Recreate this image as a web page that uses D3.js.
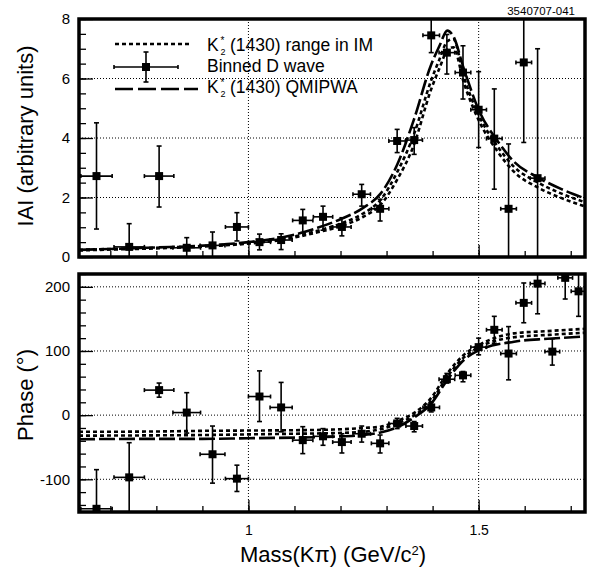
<!DOCTYPE html>
<meta charset="utf-8">
<script src="https://d3js.org/d3.v7.min.js"></script>
<style>
  body { margin: 0; background: #fff; }
  text { font-family: "Liberation Sans", Arial, Helvetica, sans-serif; fill: #000; }
</style>
<div id="chart"></div>
<script>

// bin centres, Mass(K pi) in GeV/c^2, and horizontal error bars
let mass    = [0.670, 0.741, 0.806, 0.866, 0.922, 0.975, 1.024, 1.071, 1.118, 1.162, 1.203, 1.246, 1.286,
               1.323, 1.360, 1.397, 1.431, 1.466, 1.500, 1.534, 1.565, 1.598, 1.628, 1.660, 1.688, 1.717]
let massErr = [0.034, 0.033, 0.032, 0.030, 0.027, 0.025, 0.024, 0.024, 0.022, 0.021, 0.020, 0.019, 0.019,
               0.018, 0.018, 0.018, 0.017, 0.017, 0.017, 0.017, 0.017, 0.017, 0.016, 0.016, 0.016, 0.016]

// |A| of the binned D wave (first 23 bins)
let amp   = [2.72, 0.34, 2.72, 0.31, 0.39, 1.01, 0.50, 0.57, 1.23, 1.35, 1.01, 2.11, 1.62, 3.90, 3.93, 7.45, 6.87, 6.20, 4.95, 3.98, 1.62, 6.54, 2.65]
let ampLo = [0.94, -0.5, 1.68, -0.5, -0.5, 0.54, 0.24, 0.25, 0.82, 0.90, 0.71, 1.71, 1.21, 3.51, 3.45, 6.87, 6.15, 5.31, 3.68, 2.28, -1.0, 3.85, -1.0]
let ampHi = [4.51, 1.12, 3.73, 0.65, 0.84, 1.49, 0.77, 0.78, 1.60, 1.71, 1.32, 2.44, 1.94, 4.29, 4.35, 8.60, 7.48, 7.10, 6.23, 5.65, 3.80, 8.60, 7.00]

// phase of the binned D wave, degrees
let phase   = [-146, -97, 39, 4, -61, -99, 29, 12, -39, -33, -42, -29, -44, -13, -17, 12, 56, 62, 106, 133, 96, 175, 205, 99, 214, 193]
let phaseLo = [-250, -250, 28, -28, -106, -119, -10, -26, -60, -47, -59, -42, -59, -21, -26, 5, 50, 52, 94, 112, 55, 144, 158, 78, 181, 154]
let phaseHi = [-85, -43, 50, 35, -17, -78, 69, 51, -18, -21, -29, -17, -31, -5, -10, 21, 65, 68, 120, 154, 138, 206, 300, 119, 300, 300]

// model curves
let ampCurveMass = [0.632, 0.70, 0.80, 0.90, 1.00, 1.07, 1.15, 1.20, 1.25, 1.287, 1.323, 1.359, 1.396, 1.415, 1.432, 1.445, 1.468, 1.50, 1.541, 1.577, 1.628, 1.68, 1.731]
let ampQmipwa = [0.24, 0.27, 0.32, 0.38, 0.50, 0.65, 0.98, 1.27, 1.66, 2.13, 3.10, 4.60, 6.43, 7.10, 7.61, 7.42, 6.32, 4.95, 3.90, 3.20, 2.68, 2.28, 1.97]
let ampImHigh = [0.24, 0.27, 0.31, 0.37, 0.47, 0.60, 0.88, 1.12, 1.47, 1.92, 2.85, 4.10, 5.90, 6.65, 7.25, 7.33, 6.05, 4.78, 3.72, 3.03, 2.51, 2.13, 1.84]
let ampImLow  = [0.22, 0.25, 0.29, 0.35, 0.45, 0.57, 0.83, 1.03, 1.36, 1.76, 2.60, 3.75, 5.60, 6.35, 6.95, 7.05, 5.85, 4.60, 3.55, 2.86, 2.34, 1.98, 1.70]

let phaseCurveMass = [0.632, 0.80, 0.90, 1.00, 1.10, 1.185, 1.25, 1.287, 1.323, 1.359, 1.396, 1.432, 1.468, 1.50, 1.577, 1.65, 1.731]
let phaseQmipwa = [-37.5, -37, -37, -36, -35, -33.5, -31, -27, -19, -4, 17, 55, 86, 101, 114.5, 119, 122.5]
let phaseImHigh = [-26, -25.5, -24.5, -24, -23.5, -22.5, -20, -18, -9, 3, 26, 65, 94, 109, 127.5, 131, 134.5]
let phaseImLow  = [-32, -31.5, -31, -30, -29, -28, -26, -22, -13, -1, 21, 60, 90, 105.5, 121.5, 125, 128.5]

let ampTicks = [0, 2, 4, 6, 8]
let phaseTicks = [-100, 0, 100, 200]
let massTicks = [1, 1.5]

var W = 598, H = 575

var svg = d3.select("#chart").append("svg")
  .attr("width", W).attr("height", H)
svg.append("rect").attr("width", W).attr("height", H).attr("fill", "#fff")

var x = d3.scaleLinear().domain([0.632, 1.731]).range([79, 585])
var yA = d3.scaleLinear().domain([0, 8]).range([257, 19])
var yP = d3.scaleLinear().domain([-151, 220]).range([512, 274])

function panel(id, y, majorTicks, minorStep, showXLabels) {
  var g = svg.append("g")
  var top = y.range()[1], bot = y.range()[0]
  var left = x.range()[0], right = x.range()[1]

  g.append("clipPath").attr("id", id)
    .append("rect").attr("x", left).attr("y", top)
    .attr("width", right - left).attr("height", bot - top)

  // dotted grid
  g.selectAll(".hg").data(majorTicks).enter().append("line")
    .attr("x1", left).attr("x2", right)
    .attr("y1", d => y(d)).attr("y2", d => y(d))
    .attr("stroke", "#000").attr("stroke-width", 1).attr("stroke-dasharray", "1,2")
  g.selectAll(".vg").data(massTicks).enter().append("line")
    .attr("x1", d => x(d)).attr("x2", d => x(d))
    .attr("y1", top).attr("y2", bot)
    .attr("stroke", "#000").attr("stroke-width", 1).attr("stroke-dasharray", "1,2")

  // y ticks
  var dom = y.domain()
  var minor = d3.range(Math.ceil(dom[0] / minorStep) * minorStep, dom[1] + 1e-9, minorStep)
  g.append("g").attr("transform", "translate(" + left + ",0)")
    .call(d3.axisLeft(y).tickValues(minor).tickSize(-7).tickFormat(""))
    .call(a => a.select(".domain").remove())
  g.append("g").attr("transform", "translate(" + left + ",0)")
    .call(d3.axisLeft(y).tickValues(majorTicks).tickSize(-14).tickPadding(9).tickFormat(d => String(d)))
    .call(a => a.select(".domain").remove())
    .call(a => a.selectAll("text").attr("font-size", 15).attr("font-family", "Liberation Sans, Arial, sans-serif"))

  // x ticks
  g.append("g").attr("transform", "translate(0," + bot + ")")
    .call(d3.axisBottom(x).tickValues(d3.range(0.7, 1.75, 0.1)).tickSize(-6).tickFormat(""))
    .call(a => a.select(".domain").remove())
  var xa = g.append("g").attr("transform", "translate(0," + bot + ")")
    .call(d3.axisBottom(x).tickValues(massTicks).tickSize(-12).tickPadding(13)
      .tickFormat(showXLabels ? (d => String(d)) : ""))
    .call(a => a.select(".domain").remove())
  xa.selectAll("text").attr("font-size", 14).attr("font-family", "Liberation Sans, Arial, sans-serif")
  g.selectAll(".tick line").attr("stroke", "#000").attr("stroke-width", 1.3)

  var plot = g.append("g").attr("clip-path", "url(#" + id + ")")
  return { g: g, plot: plot }
}

var dottedStyle = { dash: "4,3", width: 2.6 }
var dashedStyle = { dash: "16,4", width: 2.6 }

function drawCurve(layer, ms, vs, y, st) {
  var line = d3.line().x(d => x(d[0])).y(d => y(d[1])).curve(d3.curveMonotoneX)
  layer.append("path").datum(d3.zip(ms, vs))
    .attr("d", line).attr("fill", "none")
    .attr("stroke", "#000").attr("stroke-width", st.width).attr("stroke-dasharray", st.dash)
}

function drawPoints(layer, ms, me, vs, lo, hi, y) {
  var pts = d3.range(vs.length).map(i => ({ m: ms[i], e: me[i], v: vs[i], lo: lo[i], hi: hi[i] }))
  var gp = layer.selectAll(".pt").data(pts).enter().append("g")
  gp.append("line").attr("x1", d => x(d.m - d.e)).attr("x2", d => x(d.m + d.e))
    .attr("y1", d => y(d.v)).attr("y2", d => y(d.v))
  gp.append("line").attr("x1", d => x(d.m)).attr("x2", d => x(d.m))
    .attr("y1", d => y(d.lo)).attr("y2", d => y(d.hi))
  // caps
  gp.append("line").attr("x1", d => x(d.m) - 2.5).attr("x2", d => x(d.m) + 2.5)
    .attr("y1", d => y(d.hi)).attr("y2", d => y(d.hi))
  gp.append("line").attr("x1", d => x(d.m) - 2.5).attr("x2", d => x(d.m) + 2.5)
    .attr("y1", d => y(d.lo)).attr("y2", d => y(d.lo))
  gp.append("line").attr("x1", d => x(d.m - d.e)).attr("x2", d => x(d.m - d.e))
    .attr("y1", d => y(d.v) - 2).attr("y2", d => y(d.v) + 2)
  gp.append("line").attr("x1", d => x(d.m + d.e)).attr("x2", d => x(d.m + d.e))
    .attr("y1", d => y(d.v) - 2).attr("y2", d => y(d.v) + 2)
  gp.selectAll("line").attr("stroke", "#000").attr("stroke-width", 1.6)
  gp.append("rect").attr("x", d => x(d.m) - 4).attr("y", d => y(d.v) - 4)
    .attr("width", 8).attr("height", 8).attr("fill", "#000")
}

// top panel: |A|
var pa = panel("clipA", yA, ampTicks, 0.5, false)
drawCurve(pa.plot, ampCurveMass, ampImHigh, yA, dottedStyle)
drawCurve(pa.plot, ampCurveMass, ampImLow, yA, dottedStyle)
drawCurve(pa.plot, ampCurveMass, ampQmipwa, yA, dashedStyle)
drawPoints(pa.plot, mass, massErr, amp, ampLo, ampHi, yA)

// bottom panel: phase
var pp = panel("clipP", yP, phaseTicks, 20, true)
drawCurve(pp.plot, phaseCurveMass, phaseImHigh, yP, dottedStyle)
drawCurve(pp.plot, phaseCurveMass, phaseImLow, yP, dottedStyle)
drawCurve(pp.plot, phaseCurveMass, phaseQmipwa, yP, dashedStyle)
drawPoints(pp.plot, mass, massErr, phase, phaseLo, phaseHi, yP)

// frames
;[yA, yP].forEach(function (y) {
  svg.append("rect").attr("x", 79).attr("y", y.range()[1])
    .attr("width", 585 - 79).attr("height", y.range()[0] - y.range()[1])
    .attr("fill", "none").attr("stroke", "#000").attr("stroke-width", 3.5)
})

// legend
var lg = svg.append("g")
lg.append("line").attr("x1", 115).attr("x2", 190).attr("y1", 44).attr("y2", 44)
  .attr("stroke", "#000").attr("stroke-width", dottedStyle.width).attr("stroke-dasharray", dottedStyle.dash)
lg.append("line").attr("x1", 115).attr("x2", 198).attr("y1", 89).attr("y2", 89)
  .attr("stroke", "#000").attr("stroke-width", dashedStyle.width).attr("stroke-dasharray", "18,5")
lg.append("line").attr("x1", 114).attr("x2", 178).attr("y1", 67).attr("y2", 67)
  .attr("stroke", "#000").attr("stroke-width", 1.6)
lg.append("line").attr("x1", 146).attr("x2", 146).attr("y1", 52).attr("y2", 82)
  .attr("stroke", "#000").attr("stroke-width", 1.6)
;[[143.5, 148.5, 52, 52], [143.5, 148.5, 82, 82], [114, 114, 65, 69], [178, 178, 65, 69]].forEach(c => {
  lg.append("line").attr("x1", c[0]).attr("x2", c[1]).attr("y1", c[2]).attr("y2", c[3])
    .attr("stroke", "#000").attr("stroke-width", 1.6)
})
lg.append("rect").attr("x", 142).attr("y", 63).attr("width", 8).attr("height", 8).attr("fill", "#000")

// K*_2 label: one text, star raised and 2 lowered in the same column
function kstar(y, rest) {
  var t = lg.append("text").attr("x", 207).attr("y", y).attr("font-size", 17.5)
  t.append("tspan").text("K")
  t.append("tspan").attr("x", 220.5).attr("dy", -7).attr("font-size", 10).text("*")
  t.append("tspan").attr("x", 220.5).attr("dy", 11).attr("font-size", 9).text("2")
  t.append("tspan").attr("x", 230).attr("dy", -4).text(rest)
}
kstar(51, "(1430) range in IM")
lg.append("text").attr("x", 207).attr("y", 72).attr("font-size", 17.5).text("Binned D wave")
kstar(93, "(1430) QMIPWA")

// titles
svg.append("text").attr("x", 575).attr("y", 15).attr("text-anchor", "end")
  .attr("font-size", 11.5).text("3540707-041")

svg.append("text").attr("transform", "translate(33,136) rotate(-90)")
  .attr("text-anchor", "middle").attr("font-size", 22).text("IAI (arbitrary units)")
svg.append("text").attr("transform", "translate(33,395) rotate(-90)")
  .attr("text-anchor", "middle").attr("font-size", 22).text("Phase (°)")

var xt = svg.append("text").attr("x", 333).attr("y", 562)
  .attr("text-anchor", "middle").attr("font-size", 22)
xt.append("tspan").text("Mass(K\u03c0) (GeV/c")
xt.append("tspan").attr("font-size", 13).attr("dy", -7).text("2")
xt.append("tspan").attr("dy", 7).text(")")

</script>
